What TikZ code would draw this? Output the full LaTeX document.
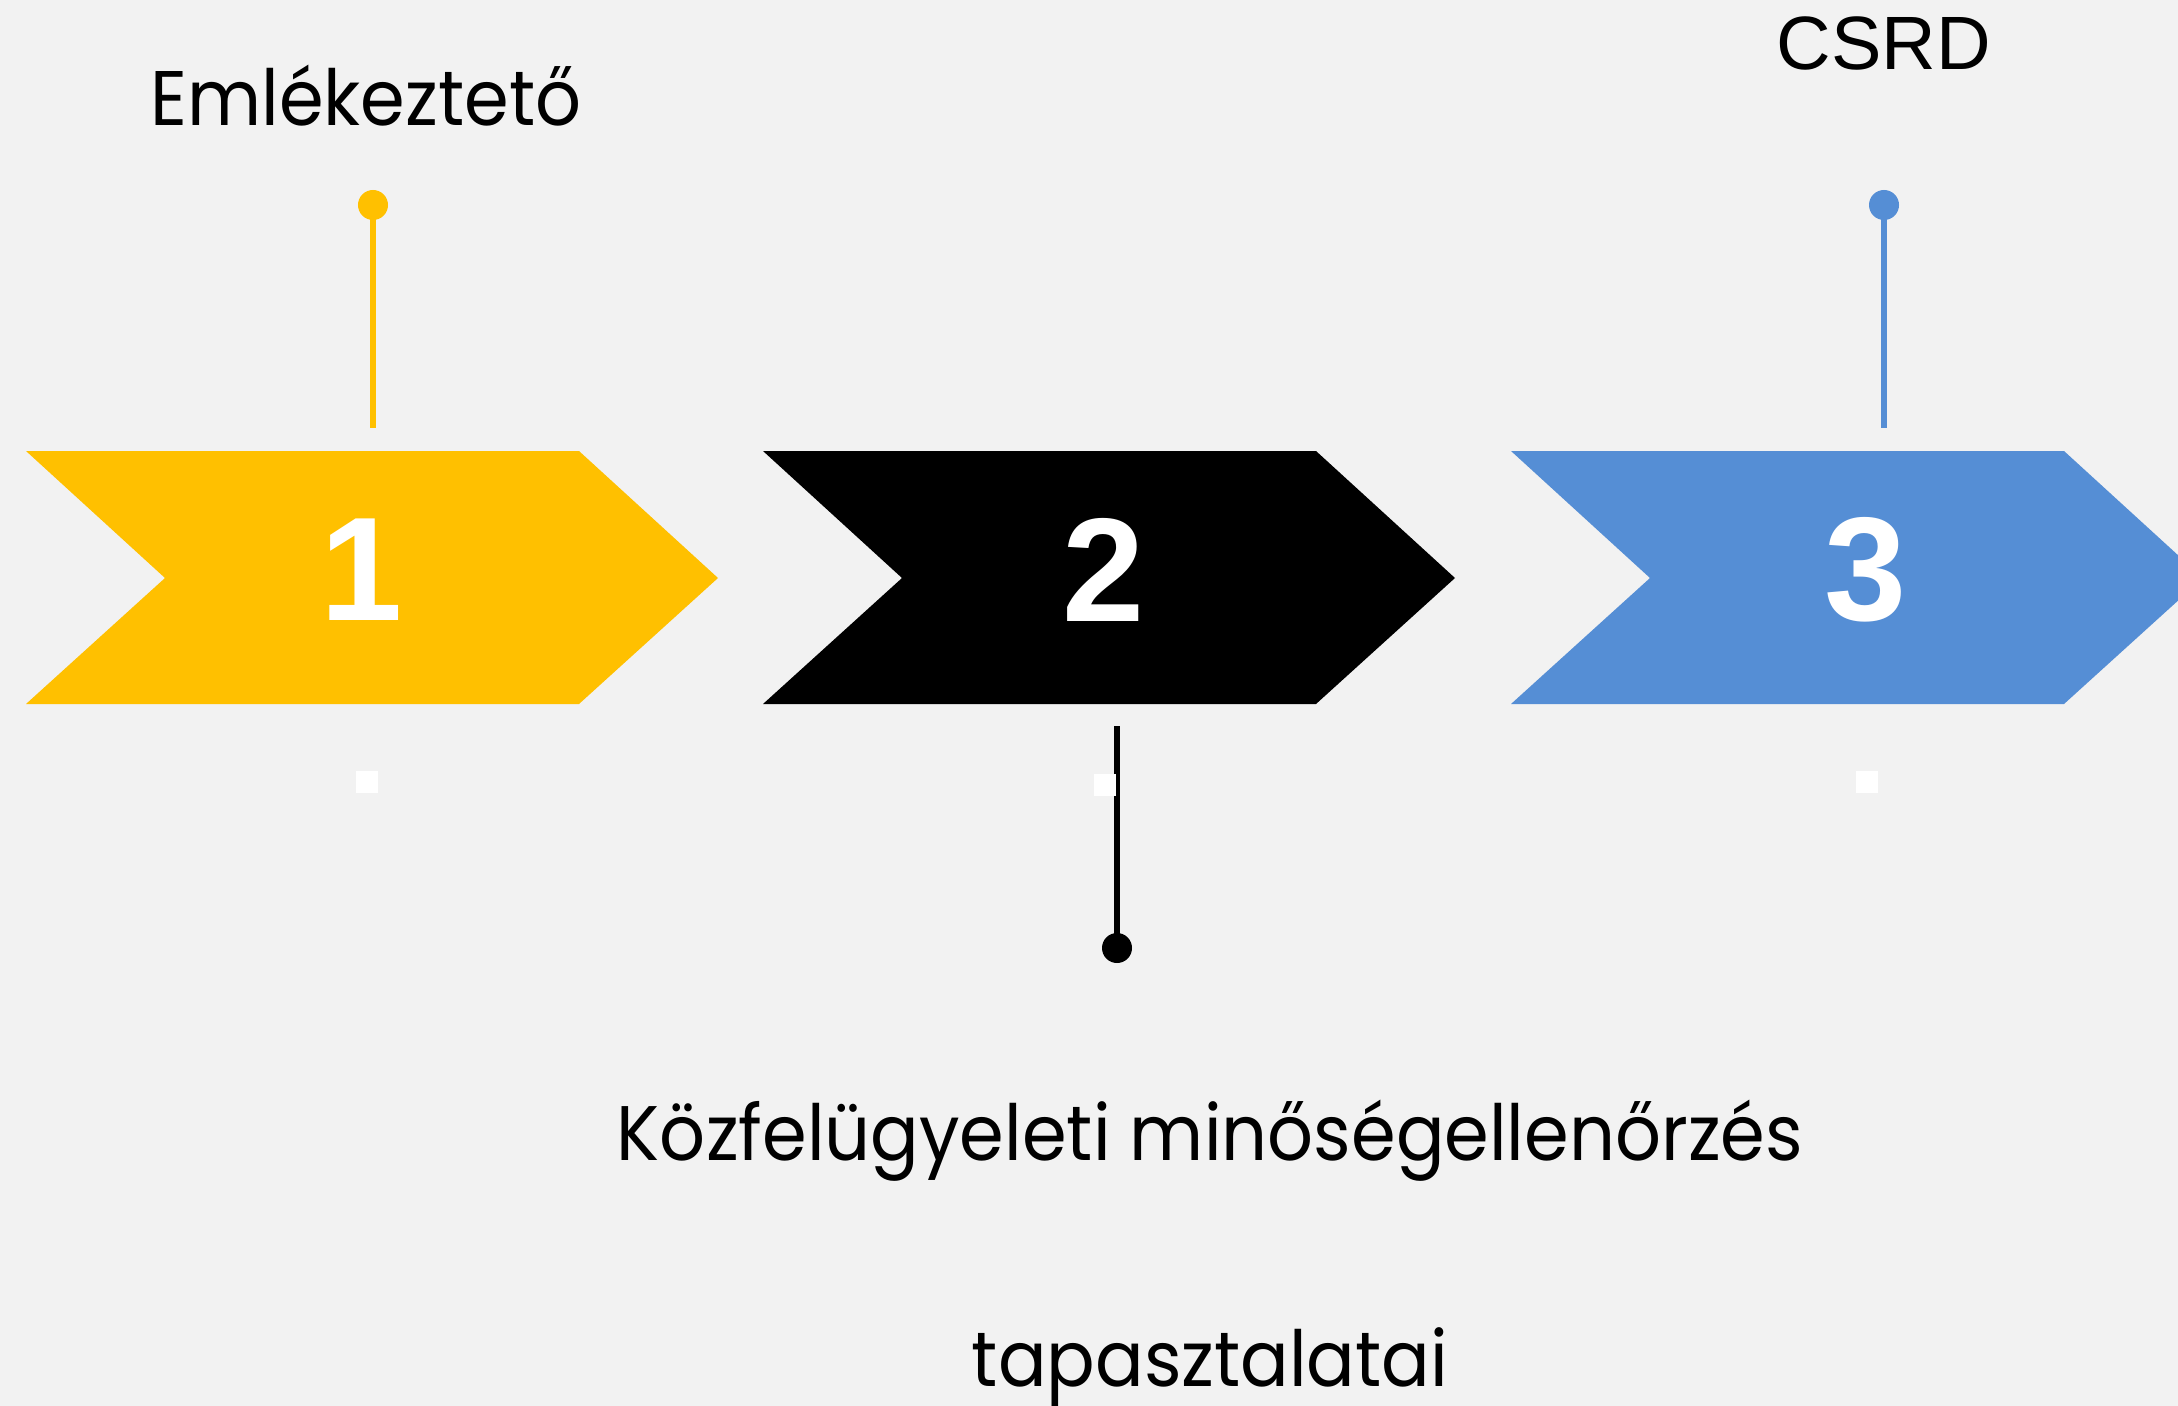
\documentclass[tikz,border=0pt]{standalone}
\usepackage{fontspec}
\setmainfont{Liberation Sans}
\newfontfamily\gothic[FakeStretch=0.93]{Poppins}
\definecolor{paperbg}{RGB}{242, 242, 242}
\definecolor{stepyellow}{RGB}{255, 192, 0}
\definecolor{stepblue}{RGB}{85, 142, 213}
\usetikzlibrary{positioning}

\tikzset{
  stepnum/.style={text=white, font=\fontsize{42}{42}\selectfont\bfseries, inner sep=0pt},
  pindot/.style={circle, fill=#1, inner sep=0pt, minimum size=0.3cm},
  pinline/.style={draw=#1, line width=1.7pt},
  blankbox/.style={fill=white, inner sep=0pt, minimum size=0.22cm},
  steplabel/.style={font=\gothic\fontsize{22}{22}\selectfont, inner sep=0pt, anchor=base}
}

\begin{document}
\begin{tikzpicture}[x=0.01cm, y=-0.01cm]
  \fill[paperbg] (0,0) rectangle (2178,1406);
  \useasboundingbox (0,0) rectangle (2178,1406);
  \clip (0,0) rectangle (2178,1406);

  % chevrons
  \fill[stepyellow] (26,451) -- ++(553,0) -- ++(139,127) -- ++(-139,126) -- ++(-553,0) -- ++(139,-126) -- cycle;
  \fill[black] (763,451) -- ++(553,0) -- ++(139,127) -- ++(-139,126) -- ++(-553,0) -- ++(139,-126) -- cycle;
  \fill[stepblue] (1511,451) -- ++(553,0) -- ++(139,127) -- ++(-139,126) -- ++(-553,0) -- ++(139,-126) -- cycle;

  \node[stepnum] (num1) at (362,570) {1};
  \node[stepnum] (num2) at (1104,570) {2};
  \node[stepnum] (num3) at (1866,570) {3};

  % pins
  \node[pindot=stepyellow] (dot1) at (373,205) {};
  \coordinate (foot1) at (373,428);
  \draw[pinline=stepyellow] (dot1.center) -- (foot1);

  \node[pindot=black] (dot2) at (1117,948) {};
  \coordinate (foot2) at (1117,726);
  \draw[pinline=black] (dot2.center) -- (foot2);

  \node[pindot=stepblue] (dot3) at (1884,205) {};
  \coordinate (foot3) at (1884,428);
  \draw[pinline=stepblue] (dot3.center) -- (foot3);

  % empty boxes under the chevrons
  \node[blankbox] (blank1) at (367,782) {};
  \node[blankbox] (blank2) at (1105,785) {};
  \node[blankbox] (blank3) at (1867,782) {};

  % labels
  \node[steplabel] (lab1) at (366,125) {Emlékeztető};
  \node[inner sep=0pt, anchor=base, font=\fontsize{21.5}{22}\selectfont] (lab3) at (1884,69) {CSRD};
  \node[steplabel] (lab2a) at (1210,1160) {Közfelügyeleti minőségellenőrzés};
  \node[steplabel] (lab2b) at (1210,1386) {tapasztalatai};
\end{tikzpicture}
\end{document}
